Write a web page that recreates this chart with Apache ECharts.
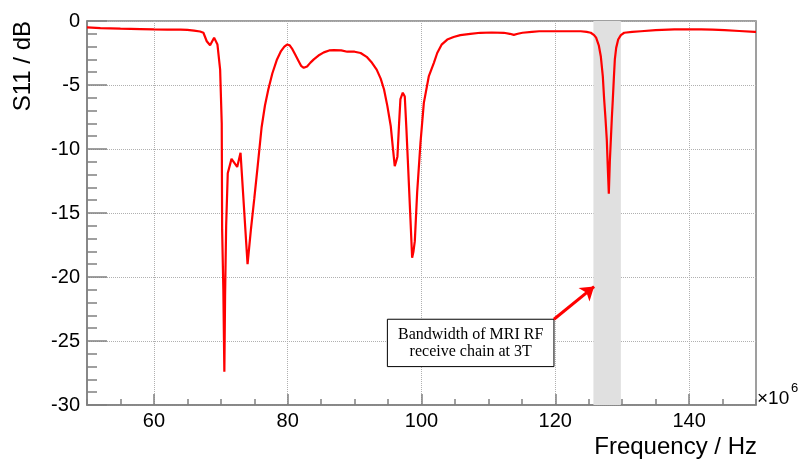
<!DOCTYPE html>
<html><head><meta charset="utf-8">
<script src="https://cdn.jsdelivr.net/npm/echarts@6/dist/echarts.min.js"></script>
<style>html,body{margin:0;padding:0;background:#fff}#c{width:805px;height:459px}</style>
</head><body><div id="c"></div>
<script>
// Frequency in MHz (axis shows x10^6 Hz)
const freqMHz = [
  50.0, 52.0, 55.0, 58.0, 60.0, 62.0, 64.0, 65.0, 66.0, 66.9,
  67.4, 67.9, 68.4, 69.0, 69.5, 69.9, 70.14, 70.2, 70.38, 70.53,
  70.64, 70.8, 71.04, 71.6, 72.45, 72.95, 74.0, 74.5, 75.0, 75.5,
  76.1, 76.6, 77.1, 77.7, 78.4, 79.0, 79.5, 79.9, 80.3, 80.7,
  81.1, 81.6, 82.0, 82.4, 82.9, 83.4, 83.9, 84.6, 85.4, 86.2,
  86.9, 88.0, 88.9, 90.0, 90.9, 91.8, 92.6, 93.3, 93.9, 94.4,
  94.9, 95.4, 95.7, 96.0, 96.2, 96.4, 96.65, 96.85, 97.2, 97.5,
  97.75, 97.95, 98.35, 98.6, 98.8, 99.0, 99.35, 99.85, 100.35, 101.1,
  101.85, 102.35, 103.0, 103.85, 104.8, 105.8, 107.3, 108.8, 110.5, 112.3,
  113.2, 113.8, 114.4, 115.1, 116.5, 117.6, 120.0, 122.0, 123.8, 124.7,
  125.3, 125.8, 126.1, 126.5, 126.8, 127.1, 127.3, 127.5, 127.7, 127.85,
  128.0, 128.15, 128.3, 128.45, 128.6, 128.75, 128.9, 129.1, 129.4, 129.8,
  130.3, 131.5, 132.8, 135.0, 137.8, 140.0, 141.8, 143.5, 145.3, 147.5,
  149.8, 150.0
];
const s11dB = [
  -0.50, -0.55, -0.60, -0.63, -0.66, -0.67, -0.68, -0.70, -0.75, -0.82,
  -0.92, -1.58, -1.90, -1.30, -1.84, -3.80, -8.0, -16.3, -21.0, -27.4,
  -21.5, -16.0, -11.9, -10.77, -11.4, -10.3, -19.0, -16.3, -13.9, -11.4,
  -8.3, -6.6, -5.35, -4.1, -3.0, -2.35, -2.0, -1.84, -1.9, -2.2,
  -2.6, -3.1, -3.5, -3.66, -3.55, -3.25, -3.0, -2.7, -2.45, -2.3,
  -2.28, -2.3, -2.4, -2.4, -2.5, -2.8, -3.27, -3.8, -4.5, -5.35,
  -6.65, -8.2, -9.8, -11.34, -11.0, -10.6, -8.0, -6.1, -5.6, -5.9,
  -8.5, -10.8, -15.5, -18.5, -18.0, -17.2, -13.4, -9.5, -6.4, -4.3,
  -3.27, -2.5, -1.85, -1.45, -1.25, -1.1, -1.0, -0.92, -0.9, -0.92,
  -1.0, -1.08, -1.0, -0.92, -0.85, -0.80, -0.80, -0.80, -0.80, -0.85,
  -0.92, -1.1, -1.3, -1.9, -2.75, -4.3, -6.1, -7.6, -9.3, -11.5,
  -13.5, -11.0, -9.3, -7.6, -6.1, -4.5, -3.0, -2.1, -1.45, -1.1,
  -0.92, -0.85, -0.80, -0.72, -0.66, -0.66, -0.66, -0.68, -0.72, -0.78,
  -0.85, -0.85
];
const xMajorTicks = [60, 80, 100, 120, 140];
const xRange = [50, 150];
const yRange = [-30, 0];
const bandMHz = [125.7, 129.8];
const noteLines = ['Bandwidth of MRI RF', 'receive chain at 3T'];
const noteBox = [[94.9, -23.3], [119.8, -27.0]];
const arrowPts = [[119.8, -23.3], [125.8, -20.75]];

const AX = '#808080';
const GRIDC = '#b0b0b0';
const data = freqMHz.map((f, i) => [f, s11dB[i]]);

const chart = echarts.init(document.getElementById('c'), null, {renderer: 'canvas'});
chart.setOption({
  animation: false,
  backgroundColor: '#ffffff',
  textStyle: {fontFamily: 'Liberation Sans'},
  grid: {left: 87, right: 49, top: 21, bottom: 53, show: true, borderColor: AX, borderWidth: 1.5, backgroundColor: 'transparent'},
  xAxis: [{
    type: 'value', min: xRange[0], max: xRange[1], interval: 5,
    name: 'Frequency / Hz', nameLocation: 'end', nameGap: 1,
    nameTextStyle: {fontSize: 24, color: '#000', align: 'right', verticalAlign: 'top', padding: [30, 0, 0, 0], fontFamily: 'Liberation Sans'},
    axisLine: {onZero: false, lineStyle: {color: AX, width: 1.5}},
    axisTick: {inside: true, length: 11, customValues: xMajorTicks, lineStyle: {color: AX, width: 1.5}},
    axisLabel: {customValues: xMajorTicks, fontSize: 20, color: '#000', margin: 6, fontFamily: 'Liberation Sans'},
    splitLine: {show: true, lineStyle: {color: GRIDC, type: 'dotted', width: 1}}
  }, {
    type: 'value', min: xRange[0], max: xRange[1], interval: 5, position: 'bottom', offset: 0,
    axisLine: {show: false, onZero: false},
    axisTick: {inside: true, length: 6, lineStyle: {color: AX, width: 1.5}},
    axisLabel: {show: false},
    splitLine: {show: false}
  }],
  yAxis: {
    type: 'value', min: yRange[0], max: yRange[1], interval: 5,
    name: 'S11 / dB', nameLocation: 'end', nameGap: 0, nameRotate: 90,
    nameTextStyle: {fontSize: 24, color: '#000', align: 'right', verticalAlign: 'bottom', padding: [0, 0, 52, 0], fontFamily: 'Liberation Sans'},
    axisLine: {onZero: false, lineStyle: {color: AX, width: 1.5}},
    axisTick: {inside: true, length: 20, lineStyle: {color: AX, width: 1.5}},
    minorTick: {show: true, splitNumber: 5, length: 10, lineStyle: {color: AX, width: 1.5}},
    axisLabel: {fontSize: 20, color: '#000', margin: 7, fontFamily: 'Liberation Sans'},
    splitLine: {show: true, lineStyle: {color: GRIDC, type: 'dotted', width: 1}}
  },
  series: [{
    type: 'line', data: data, xAxisIndex: 0, yAxisIndex: 0,
    symbol: 'none', showSymbol: false,
    lineStyle: {color: '#ff0000', width: 2.2},
    z: 5,
    markArea: {
      silent: true,
      data: [
        [{xAxis: bandMHz[0], itemStyle: {color: '#e0e0e0', opacity: 1}}, {xAxis: bandMHz[1]}],
        [{coord: noteBox[0], itemStyle: {color: '#ffffff', opacity: 1, borderColor: '#000', borderWidth: 1},
          label: {show: true, position: 'inside', formatter: noteLines.join('\n'), fontFamily: 'Liberation Serif', fontSize: 16, lineHeight: 17, color: '#000'}},
         {coord: noteBox[1]}]
      ],
      label: {show: false}
    },
    markLine: {
      silent: true, symbol: ['none', 'arrow'], symbolSize: 13,
      lineStyle: {color: '#ff0000', width: 3, type: 'solid'},
      label: {show: false},
      data: [[{coord: arrowPts[0]}, {coord: arrowPts[1]}]]
    }
  }],
  graphic: [
    {type: 'text', left: 757, top: 389, style: {text: '×10', fontSize: 19, fill: '#000', fontFamily: 'Liberation Sans'}},
    {type: 'text', left: 791, top: 382, style: {text: '6', fontSize: 13, fill: '#000', fontFamily: 'Liberation Sans'}}
  ]
});
</script></body></html>
